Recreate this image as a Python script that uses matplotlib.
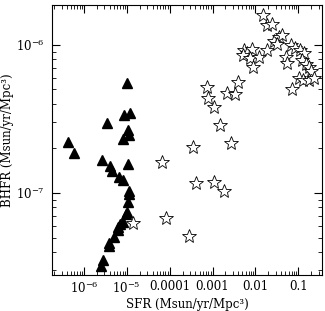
import numpy as np
import matplotlib
matplotlib.use("Agg")
import matplotlib.pyplot as plt
from matplotlib.ticker import LogLocator, FixedLocator, FixedFormatter, NullFormatter

# triangles: filled
tri_sfr = [4.26e-7, 5.87e-7, 3.40e-6, 9.9e-6, 8.43e-6, 1.16e-5, 1.04e-5, 1.10e-5,
           8.0e-6, 2.61e-6, 4.0e-6, 4.45e-6, 1.04e-5, 6.46e-6, 8.0e-6, 1.10e-5,
           1.10e-5, 1.04e-5, 9.9e-6, 9.38e-6, 8.0e-6, 6.81e-6, 6.12e-6, 6.12e-6,
           4.95e-6, 3.79e-6, 3.79e-6, 2.75e-6, 2.47e-6]
tri_bhfr = [2.21e-7, 1.86e-7, 2.97e-7, 5.54e-7, 3.37e-7, 3.47e-7, 2.67e-7, 2.47e-7,
            2.32e-7, 1.67e-7, 1.52e-7, 1.41e-7, 1.57e-7, 1.28e-7, 1.22e-7, 1.03e-7,
            9.85e-8, 8.69e-8, 7.44e-8, 7.21e-8, 6.37e-8, 6.17e-8, 5.89e-8, 5.62e-8,
            5.04e-8, 4.59e-8, 4.38e-8, 3.53e-8, 3.21e-8]

# stars: open
star_sfr = [1.36e-5, 6.75e-5, 8.33e-5, 2.84e-4, 3.52e-4, 4.13e-4, 1.08e-3, 1.84e-3,
            2.67e-3, 7.41e-4, 7.83e-4, 1.08e-3, 1.48e-3, 2.15e-3, 3.30e-3, 3.87e-3,
            1.47e-2, 1.82e-2, 2.50e-2, 5.33e-3, 6.26e-3, 8.17e-3, 5.06e-3, 7.34e-3,
            8.61e-3, 1.19e-2, 1.91e-2, 2.78e-2, 3.63e-2, 4.26e-2, 3.27e-2, 6.89e-2,
            8.53e-2, 0.111, 0.138, 5.27e-2, 5.56e-2, 0.124, 0.153, 0.180, 0.200,
            0.105, 0.131, 0.180, 0.234, 7.26e-2]
star_bhfr = [6.27e-8, 1.62e-7, 6.78e-8, 5.12e-8, 2.05e-7, 1.17e-7, 1.19e-7, 1.03e-7,
             2.18e-7, 5.20e-7, 4.38e-7, 3.81e-7, 2.88e-7, 4.74e-7, 4.67e-7, 5.62e-7,
             1.60e-6, 1.37e-6, 1.39e-6, 9.25e-7, 8.83e-7, 9.40e-7, 8.56e-7, 8.17e-7,
             7.10e-7, 8.30e-7, 9.25e-7, 1.06e-6, 1.13e-6, 1.17e-6, 1.016e-6, 1.0e-6,
             9.54e-7, 9.25e-7, 8.83e-7, 8.30e-7, 7.56e-7, 7.92e-7, 7.44e-7, 7.10e-7,
             6.67e-7, 5.98e-7, 5.80e-7, 5.80e-7, 5.98e-7, 5.04e-7]

xtick_vals = [1e-6, 1e-5, 1e-4, 1e-3, 1e-2, 1e-1]
xtick_labels = ["10$^{-6}$", "10$^{-5}$", "0.0001", "0.001", "0.01", "0.1"]
ytick_vals = [1e-7, 1e-6]
ytick_labels = ["10$^{-7}$", "10$^{-6}$"]

plt.rcParams['font.family'] = ['DejaVu Serif']
plt.rcParams['mathtext.fontset'] = 'dejavuserif'

fig = plt.figure(figsize=(3.25, 3.11), dpi=100)
ax = fig.add_axes([0.16, 0.116, 0.831, 0.868])

ax.plot(tri_sfr, tri_bhfr, linestyle='none', marker='^', ms=7.5, color='black')
ax.plot(star_sfr, star_bhfr, linestyle='none', marker='*', ms=10.5,
        mfc='white', mec='black', mew=0.6)

ax.set_xscale('log')
ax.set_yscale('log')
ax.set_xlim(1.8e-7, 0.36)
ax.set_ylim(2.8e-8, 1.86e-6)

ax.xaxis.set_major_locator(FixedLocator(xtick_vals))
ax.xaxis.set_major_formatter(FixedFormatter(xtick_labels))
ax.yaxis.set_major_locator(FixedLocator(ytick_vals))
ax.yaxis.set_major_formatter(FixedFormatter(ytick_labels))
ax.xaxis.set_minor_locator(LogLocator(base=10, subs=np.arange(2, 10), numticks=20))
ax.yaxis.set_minor_locator(LogLocator(base=10, subs=np.arange(2, 10), numticks=20))
ax.xaxis.set_minor_formatter(NullFormatter())
ax.yaxis.set_minor_formatter(NullFormatter())

ax.tick_params(which='both', direction='in', top=True, right=True, labelsize=8.5)
ax.tick_params(which='major', length=6, width=0.8)
ax.tick_params(axis='x', which='major', pad=4)
ax.tick_params(axis='y', which='major', pad=5)
ax.tick_params(which='minor', length=3, width=0.6)

ax.set_xlabel("SFR (Msun/yr/Mpc\u00b3)", fontsize=8.5, labelpad=1)
ax.set_ylabel("BHFR (Msun/yr/Mpc\u00b3)", fontsize=8.5, labelpad=2)

fig.savefig("out.png", dpi=100)
